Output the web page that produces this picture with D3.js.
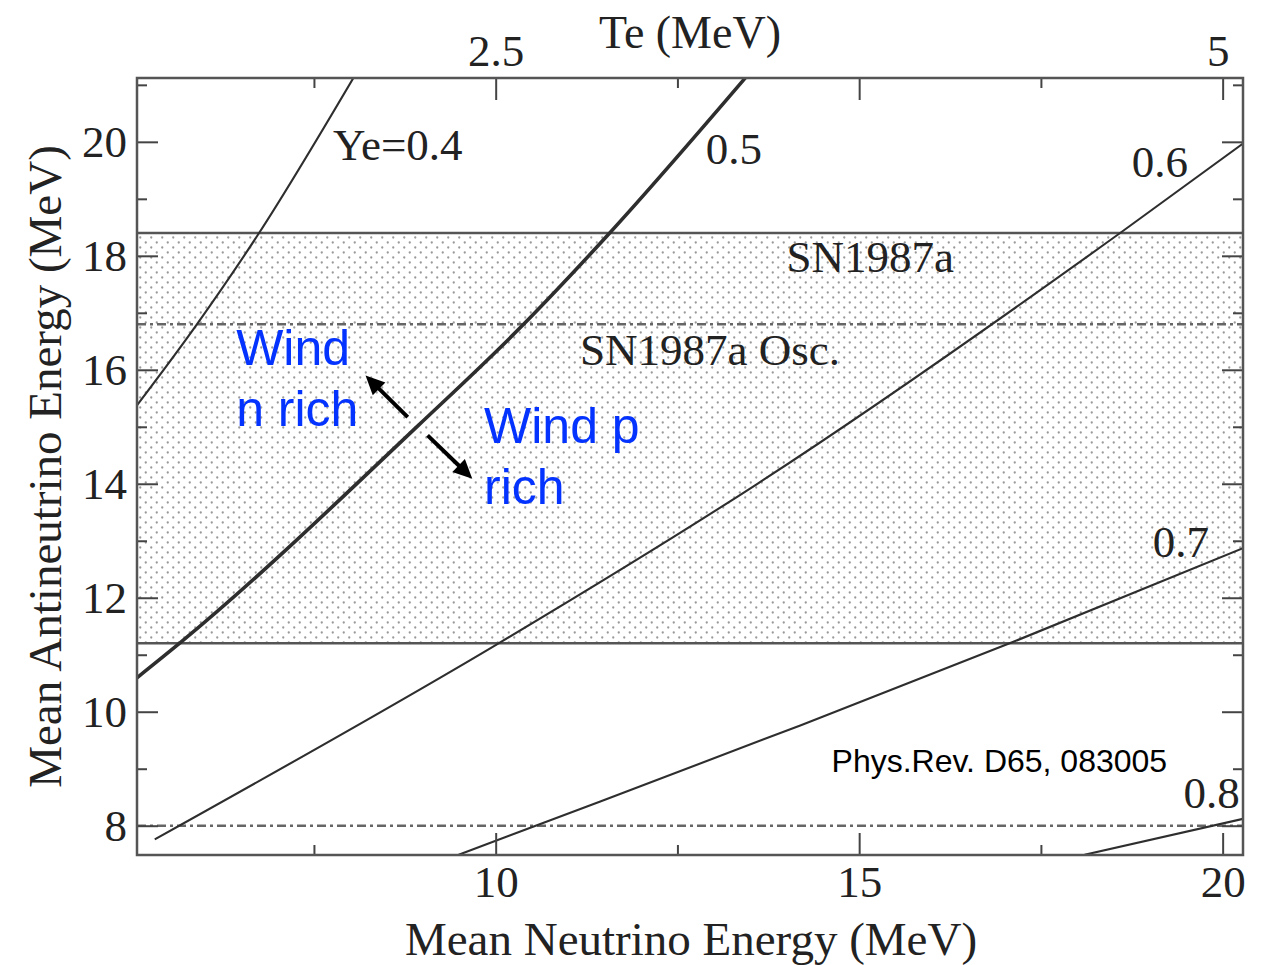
<!DOCTYPE html>
<html lang="en">
<head>
<meta charset="UTF-8">
<title>Ye contours vs mean neutrino energies</title>
<script src="https://d3js.org/d3.v7.min.js"></script>
<style>
  body { margin: 0; background: #fff; }
  .serif { font-family: "Liberation Serif", "Times New Roman", serif; fill: #222; }
  .sans { font-family: "Liberation Sans", Arial, sans-serif; }
  .tick text { font-family: "Liberation Serif", "Times New Roman", serif; font-size: 45px; fill: #222; }
  .tick line { stroke: #444; stroke-width: 2px; }
</style>
</head>
<body>
<svg width="1263" height="965"></svg>
<script>
// ---- data ----
const xDomain = [5.066, 20.28];      // mean neutrino energy (MeV)
const yDomain = [7.486, 21.12];      // mean antineutrino energy (MeV)
const xMajor = [10, 15, 20];
const xMinor = [7.5, 12.5, 17.5];
const yMajor = [8, 10, 12, 14, 16, 18, 20];
const yMinor = [9, 11, 13, 15, 17, 19, 21];
const teMajor = [2.5, 3.75, 5];
const teMinor = [1.875, 3.125, 4.375];
const teLabels = [2.5, 5];

// Ye contours: [E_nu, E_antinu]
const ye04 = [[5.05, 15.35], [5.88, 16.78], [6.725, 18.36], [8.047, 21.13]];
const ye05 = [[5.06, 10.59], [5.67, 11.22], [8.94, 15.03], [10.37, 16.78], [11.54, 18.36], [13.44, 21.13]];
const ye06 = [[5.31, 7.76], [10.04, 11.2], [13.6, 14.0], [18.59, 18.4], [20.28, 19.97]];
const ye07 = [[9.49, 7.49], [11.43, 8.42], [14.19, 9.76], [17.07, 11.2], [20.28, 12.87]];
const ye08 = [[18.1, 7.49], [20.28, 8.12]];

const sn1987a = [11.2, 18.4];       // shaded band
const sn1987aOsc = [8.0, 16.8];     // dash-dot lines

// annotations in data coordinates
const labels = [
  { text: "Ye=0.4", x: 7.762, y: 19.68 },
  { text: "0.5", x: 12.89, y: 19.61 },
  { text: "0.6", x: 18.75, y: 19.38 },
  { text: "0.7", x: 19.04, y: 12.72 },
  { text: "0.8", x: 19.46, y: 8.31 },
  { text: "SN1987a", x: 14.0, y: 17.71 },
  { text: "SN1987a Osc.", x: 11.16, y: 16.08 }
];
const windLabels = [
  { lines: ["Wind", "n rich"], x: 6.43, y: 16.08 },
  { lines: ["Wind p", "rich"], x: 9.84, y: 14.71 }
];
const arrows = [
  { from: [8.79, 15.17], to: [8.21, 15.90] },
  { from: [9.063, 14.85], to: [9.678, 14.09] }
];

// ---- chart ----
const svg = d3.select("svg");

const x = d3.scaleLinear().domain(xDomain).range([137, 1243]);
const y = d3.scaleLinear().domain(yDomain).range([855, 78]);
const te = d3.scaleLinear().domain(xDomain.map(d => d / 4)).range(x.range());

const defs = svg.append("defs");
const pat = defs.append("pattern")
    .attr("id", "dots")
    .attr("patternUnits", "userSpaceOnUse")
    .attr("width", 11).attr("height", 10);
pat.append("circle").attr("cx", 2.75).attr("cy", 2.5).attr("r", 1.15).attr("fill", "#999");
pat.append("circle").attr("cx", 8.25).attr("cy", 7.5).attr("r", 1.15).attr("fill", "#999");

defs.append("clipPath").attr("id", "plot")
  .append("rect")
    .attr("x", x.range()[0]).attr("y", y.range()[1])
    .attr("width", x.range()[1] - x.range()[0])
    .attr("height", y.range()[0] - y.range()[1]);

const plot = svg.append("g").attr("clip-path", "url(#plot)");

// SN1987a band
plot.append("rect")
    .attr("x", x.range()[0])
    .attr("y", y(sn1987a[1]))
    .attr("width", x.range()[1] - x.range()[0])
    .attr("height", y(sn1987a[0]) - y(sn1987a[1]))
    .attr("fill", "url(#dots)");

plot.selectAll(".band-edge")
    .data(sn1987a)
    .enter().append("line")
    .attr("class", "band-edge")
    .attr("x1", x.range()[0]).attr("x2", x.range()[1])
    .attr("y1", d => y(d)).attr("y2", d => y(d))
    .attr("stroke", "#555").attr("stroke-width", 2.5);

plot.selectAll(".osc")
    .data(sn1987aOsc)
    .enter().append("line")
    .attr("class", "osc")
    .attr("x1", x.range()[0]).attr("x2", x.range()[1])
    .attr("y1", d => y(d)).attr("y2", d => y(d))
    .attr("stroke", "#666").attr("stroke-width", 2.4)
    .attr("stroke-dasharray", "9,4,3,4");

// Ye contours
const line = d3.line()
    .x(d => x(d[0]))
    .y(d => y(d[1]))
    .curve(d3.curveMonotoneX);

const contours = [
  { pts: ye04, w: 2.1 },
  { pts: ye05, w: 3.6 },
  { pts: ye06, w: 2.1 },
  { pts: ye07, w: 2.1 },
  { pts: ye08, w: 2.1 }
];
plot.selectAll(".ye")
    .data(contours)
    .enter().append("path")
    .attr("class", "ye")
    .attr("d", d => line(d.pts))
    .attr("fill", "none")
    .attr("stroke", "#2e2e2e")
    .attr("stroke-width", d => d.w);

// axes (ticks pointing inward)
function clean(g) { g.select(".domain").remove(); }

svg.append("g").attr("transform", `translate(0,${y.range()[0]})`)
    .call(d3.axisBottom(x).tickValues(xMajor).tickSize(-22).tickPadding(10))
    .call(clean);
svg.append("g").attr("transform", `translate(0,${y.range()[0]})`)
    .call(d3.axisBottom(x).tickValues(xMinor).tickSize(-10).tickFormat(""))
    .call(clean);

svg.append("g").attr("transform", `translate(0,${y.range()[1]})`)
    .call(d3.axisTop(te).tickValues(teMajor).tickSize(-22).tickPadding(12)
      .tickFormat(d => teLabels.includes(d) ? d : ""))
    .call(clean)
    .call(g => g.selectAll(".tick text").filter(d => d === 5).attr("dx", -5));
svg.append("g").attr("transform", `translate(0,${y.range()[1]})`)
    .call(d3.axisTop(te).tickValues(teMinor).tickSize(-10).tickFormat(""))
    .call(clean);

svg.append("g").attr("transform", `translate(${x.range()[0]},0)`)
    .call(d3.axisLeft(y).tickValues(yMajor).tickSize(-21).tickPadding(10))
    .call(clean);
svg.append("g").attr("transform", `translate(${x.range()[0]},0)`)
    .call(d3.axisLeft(y).tickValues(yMinor.filter(v => v < yDomain[1])).tickSize(-10).tickFormat(""))
    .call(clean);

svg.append("g").attr("transform", `translate(${x.range()[1]},0)`)
    .call(d3.axisRight(y).tickValues(yMajor).tickSize(-21).tickFormat(""))
    .call(clean);
svg.append("g").attr("transform", `translate(${x.range()[1]},0)`)
    .call(d3.axisRight(y).tickValues(yMinor.filter(v => v < yDomain[1])).tickSize(-10).tickFormat(""))
    .call(clean);

// frame
svg.append("rect")
    .attr("x", x.range()[0]).attr("y", y.range()[1])
    .attr("width", x.range()[1] - x.range()[0])
    .attr("height", y.range()[0] - y.range()[1])
    .attr("fill", "none")
    .attr("stroke", "#555")
    .attr("stroke-width", 2.5);

// axis titles
svg.append("text").attr("class", "serif")
    .attr("x", 691).attr("y", 955)
    .attr("text-anchor", "middle").attr("font-size", 47)
    .text("Mean Neutrino Energy (MeV)");

svg.append("text").attr("class", "serif")
    .attr("transform", `translate(61,${(y.range()[0] + y.range()[1]) / 2}) rotate(-90)`)
    .attr("text-anchor", "middle").attr("font-size", 47)
    .text("Mean Antineutrino Energy (MeV)");

svg.append("text").attr("class", "serif")
    .attr("x", 690).attr("y", 48)
    .attr("text-anchor", "middle").attr("font-size", 46)
    .text("Te (MeV)");

// in-plot labels
svg.selectAll(".lbl")
    .data(labels)
    .enter().append("text")
    .attr("class", "lbl serif")
    .attr("x", d => x(d.x)).attr("y", d => y(d.y))
    .attr("font-size", 45)
    .text(d => d.text);

// blue annotations
const wind = svg.selectAll(".wind")
    .data(windLabels)
    .enter().append("text")
    .attr("class", "wind sans")
    .attr("x", d => x(d.x)).attr("y", d => y(d.y))
    .attr("font-size", 50)
    .attr("fill", "#0433ff");
wind.selectAll("tspan")
    .data(d => d.lines.map((t, i) => ({ t, i, x: x(d.x) })))
    .enter().append("tspan")
    .attr("x", d => d.x)
    .attr("dy", d => d.i === 0 ? 0 : 61)
    .text(d => d.t);

// arrows
const headLen = 19, headHalf = 9;
arrows.forEach(a => {
  const x0 = x(a.from[0]), y0 = y(a.from[1]);
  const x1 = x(a.to[0]), y1 = y(a.to[1]);
  const len = Math.hypot(x1 - x0, y1 - y0);
  const ux = (x1 - x0) / len, uy = (y1 - y0) / len;
  const bx = x1 - ux * headLen, by = y1 - uy * headLen;
  svg.append("line")
      .attr("x1", x0).attr("y1", y0)
      .attr("x2", bx + ux * 2).attr("y2", by + uy * 2)
      .attr("stroke", "#000").attr("stroke-width", 4);
  svg.append("path")
      .attr("d", `M${x1},${y1}L${bx - uy * headHalf},${by + ux * headHalf}L${bx + uy * headHalf},${by - ux * headHalf}Z`)
      .attr("fill", "#000");
});

// citation
svg.append("text").attr("class", "sans")
    .attr("x", x(14.62)).attr("y", y(8.95))
    .attr("font-size", 32).attr("fill", "#000")
    .text("Phys.Rev. D65, 083005");
</script>
</body>
</html>
